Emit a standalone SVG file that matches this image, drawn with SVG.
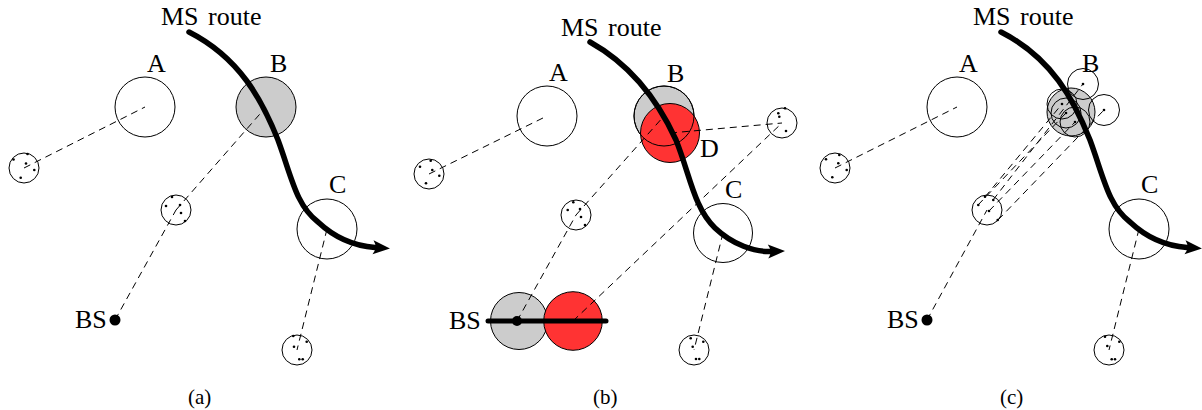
<svg xmlns="http://www.w3.org/2000/svg" width="1202" height="410" viewBox="0 0 1202 410">
<style>
.big{fill:none;stroke:#000;stroke-width:1}
.gray{fill:#cccccc;stroke:#000;stroke-width:1}
.red{fill:#ff3333;stroke:#000;stroke-width:1}
.sm{fill:#fff;stroke:#000;stroke-width:1}
.dash{fill:none;stroke:#000;stroke-width:1;stroke-dasharray:7 5}
.route{fill:none;stroke:#000;stroke-width:5.5;stroke-linecap:round;marker-end:url(#arr)}
.thick{stroke:#000;stroke-width:5;stroke-linecap:round}
.d{fill:#000}
text{font-family:"Liberation Serif","Times New Roman",serif;font-size:26px;fill:#000}
.cap{font-size:21px}
</style>
<defs>
<marker id="arr" markerUnits="userSpaceOnUse" viewBox="-4 -9 22 18" markerWidth="22" markerHeight="18" refX="0" refY="0" orient="auto">
<path d="M-2,-7 L15,0 L-2,7 Q3,0 -2,-7Z" fill="#000"/>
</marker>
</defs>

<!-- Panel (a) -->
<g id="panel-a">
<g id="a-A"><circle class="big" cx="145" cy="107" r="30"/><text x="147" y="72">A</text></g>
<g id="a-B"><circle class="gray" cx="266" cy="107" r="30"/><text x="270" y="72">B</text></g>
<g id="a-C"><circle class="big" cx="327" cy="229" r="30"/><text x="329" y="193">C</text></g>
<g id="a-s1"><circle class="sm" cx="24" cy="168" r="15"/>
<g class="d"><circle cx="13.5" cy="159.5" r="1.3"/><circle cx="27.5" cy="154" r="1.3"/><circle cx="26" cy="163.5" r="1.3"/><circle cx="34.3" cy="170" r="1.3"/><circle cx="20.7" cy="177.7" r="1.3"/></g></g>
<g id="a-s2"><circle class="sm" cx="176" cy="210" r="15"/>
<g class="d"><circle cx="172" cy="197" r="1.3"/><circle cx="166" cy="206" r="1.3"/><circle cx="180" cy="205" r="1.3"/><circle cx="181" cy="213" r="1.3"/><circle cx="185" cy="221" r="1.3"/></g></g>
<g id="a-s3"><circle class="sm" cx="297" cy="350" r="15"/>
<g class="d"><circle cx="293.3" cy="336" r="1.3"/><circle cx="306.7" cy="341.7" r="1.3"/><circle cx="294" cy="346.7" r="1.3"/><circle cx="299.3" cy="359.3" r="1.3"/><circle cx="302.7" cy="359.3" r="1.3"/></g></g>
<g id="a-BS"><circle class="d" cx="115" cy="320" r="5.5"/><text x="75" y="328">BS</text></g>
<g id="a-conn">
<line class="dash" x1="24" y1="168" x2="145" y2="107"/>
<line class="dash" x1="115" y1="320" x2="176" y2="210"/>
<line class="dash" x1="176" y1="210" x2="266" y2="107"/>
<line class="dash" x1="327" y1="229" x2="297" y2="350"/>
<path class="route" d="M189,32 C240,58 262,100 278,140 C292,178 296,205 318,222 C335,238 355,246 375,247.5"/>
</g>
<text x="161" y="25">MS<tspan x="208">route</tspan></text>
<text class="cap" x="188" y="404">(a)</text>
</g>

<!-- Panel (b) -->
<g id="panel-b">
<g id="b-A"><circle class="big" cx="547" cy="116" r="30"/><text x="549" y="81">A</text></g>
<g id="b-B"><circle class="gray" cx="664" cy="116" r="30"/><text x="667" y="82">B</text></g>
<g id="b-D"><circle class="red" cx="670" cy="133" r="29.5"/><circle class="big" cx="664" cy="116" r="30"/><text x="700" y="157">D</text></g>
<g id="b-C"><circle class="big" cx="723" cy="233" r="29.5"/><text x="725" y="198">C</text></g>
<g id="b-s1"><circle class="sm" cx="429" cy="174" r="15"/>
<g class="d"><circle cx="420" cy="166.7" r="1.3"/><circle cx="430.7" cy="160.7" r="1.3"/><circle cx="432.3" cy="170" r="1.3"/><circle cx="439.3" cy="175.7" r="1.3"/><circle cx="426" cy="183.3" r="1.3"/></g></g>
<g id="b-s2"><circle class="sm" cx="576" cy="215" r="15"/>
<g class="d"><circle cx="567.7" cy="210" r="1.3"/><circle cx="573.3" cy="202.3" r="1.3"/><circle cx="580" cy="209" r="1.3"/><circle cx="581" cy="217" r="1.3"/><circle cx="585" cy="225" r="1.3"/></g></g>
<g id="b-s3"><circle class="sm" cx="782" cy="123" r="15"/>
<g class="d"><circle cx="778.3" cy="113.3" r="1.3"/><circle cx="779.3" cy="116.7" r="1.3"/><circle cx="785" cy="108.3" r="1.3"/><circle cx="786" cy="131" r="1.3"/></g></g>
<g id="b-s4"><circle class="sm" cx="694" cy="350" r="15"/>
<g class="d"><circle cx="690.7" cy="338.3" r="1.3"/><circle cx="703.3" cy="341.7" r="1.3"/><circle cx="692.7" cy="346.7" r="1.3"/><circle cx="696" cy="359" r="1.3"/><circle cx="699.3" cy="359" r="1.3"/></g></g>
<g id="b-BS"><circle class="gray" cx="519" cy="321" r="28.5"/><circle class="red" cx="573" cy="321" r="29.3"/><text x="449" y="329">BS</text></g>
<g id="b-conn">
<line class="dash" x1="429" y1="174" x2="547" y2="116"/>
<line class="dash" x1="517" y1="321" x2="576" y2="215"/>
<line class="dash" x1="576" y1="215" x2="664" y2="116"/>
<line class="dash" x1="670" y1="133" x2="782" y2="123"/>
<line class="dash" x1="573" y1="321" x2="782" y2="123"/>
<line class="dash" x1="723" y1="233" x2="694" y2="350"/>
<line class="thick" x1="488" y1="321" x2="606" y2="321"/>
<circle class="d" cx="517" cy="321" r="5"/>
<path class="route" d="M590,42 C633,66 660,105 676,140 C690,175 694,208 715,228 C733,245 755,252 770,251.5"/>
</g>
<text x="561" y="36">MS<tspan x="608">route</tspan></text>
<text class="cap" x="593" y="404">(b)</text>
</g>

<!-- Panel (c) -->
<g id="panel-c">
<g id="c-A"><circle class="big" cx="957" cy="107" r="30"/><text x="959" y="72">A</text></g>
<g id="c-B"><circle class="gray" cx="1071" cy="112" r="24"/>
<circle class="big" cx="1083" cy="84" r="15.5"/><circle class="big" cx="1104" cy="110" r="15.5"/>
<circle class="big" cx="1062" cy="104" r="15"/><circle class="big" cx="1066" cy="113" r="15"/><circle class="big" cx="1075" cy="122" r="15"/>
<g class="d"><circle cx="1083" cy="84" r="1.3"/><circle cx="1104" cy="110" r="1.3"/><circle cx="1062" cy="104" r="1.3"/><circle cx="1066" cy="113" r="1.3"/><circle cx="1075" cy="122" r="1.3"/></g>
<text x="1082" y="72">B</text></g>
<g id="c-C"><circle class="big" cx="1139" cy="229" r="30"/><text x="1141" y="193">C</text></g>
<g id="c-s1"><circle class="sm" cx="835" cy="168" r="15"/>
<g class="d"><circle cx="826" cy="159.3" r="1.3"/><circle cx="839.3" cy="155" r="1.3"/><circle cx="838.3" cy="163.3" r="1.3"/><circle cx="846.7" cy="170" r="1.3"/><circle cx="832.3" cy="177.3" r="1.3"/></g></g>
<g id="c-s2"><circle class="sm" cx="987" cy="210" r="15"/>
<g class="d"><circle cx="985" cy="196.7" r="1.3"/><circle cx="993.3" cy="200" r="1.3"/><circle cx="978.3" cy="205" r="1.3"/><circle cx="989" cy="211" r="1.3"/><circle cx="997.7" cy="220" r="1.3"/></g></g>
<g id="c-s3"><circle class="sm" cx="1109" cy="350" r="15"/>
<g class="d"><circle cx="1105" cy="336.7" r="1.3"/><circle cx="1119.3" cy="341.7" r="1.3"/><circle cx="1107.3" cy="346" r="1.3"/><circle cx="1111.7" cy="359.3" r="1.3"/><circle cx="1115" cy="359.3" r="1.3"/></g></g>
<g id="c-BS"><circle class="d" cx="927" cy="320" r="5.5"/><text x="887" y="328">BS</text></g>
<g id="c-conn">
<line class="dash" x1="835" y1="168" x2="957" y2="107"/>
<line class="dash" x1="927" y1="320" x2="987" y2="210"/>
<line class="dash" x1="985" y1="197" x2="1062" y2="104"/>
<line class="dash" x1="993" y1="200" x2="1083" y2="84"/>
<line class="dash" x1="978" y1="205" x2="1066" y2="113"/>
<line class="dash" x1="989" y1="211" x2="1075" y2="122"/>
<line class="dash" x1="998" y1="220" x2="1104" y2="110"/>
<line class="dash" x1="1139" y1="229" x2="1109" y2="350"/>
<path class="route" d="M1001,32 C1052,58 1074,100 1090,140 C1104,178 1108,205 1130,222 C1147,238 1167,246 1187,247.5"/>
</g>
<text x="973" y="25">MS<tspan x="1020">route</tspan></text>
<text class="cap" x="1000" y="404">(c)</text>
</g>
</svg>
